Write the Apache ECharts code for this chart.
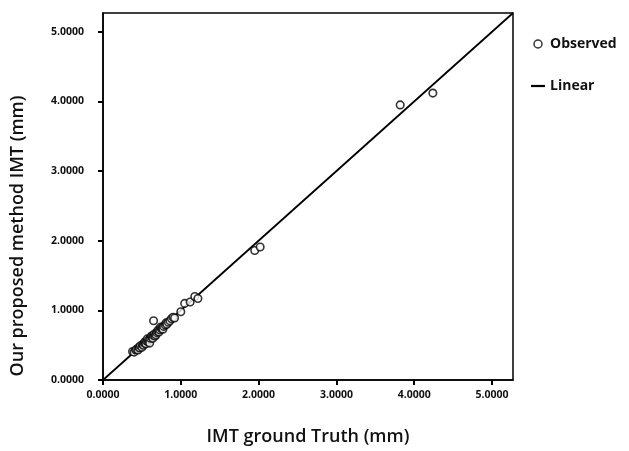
<!DOCTYPE html>
<html>
<head>
<meta charset="utf-8">
<script src="https://cdn.jsdelivr.net/npm/echarts@6/dist/echarts.min.js"></script>
<style>
  html, body { margin: 0; padding: 0; background: #fff; }
  #chart { width: 629px; height: 451px; }
</style>
</head>
<body>
<div id="chart"></div>
<script>
// IMT ground truth (x) vs proposed method IMT (y), in mm
var observed = [
  [0.38, 0.41], [0.40, 0.40], [0.42, 0.43], [0.43, 0.44], [0.45, 0.43],
  [0.46, 0.47], [0.47, 0.46], [0.48, 0.49], [0.50, 0.47], [0.51, 0.51],
  [0.52, 0.50], [0.53, 0.53], [0.54, 0.55], [0.55, 0.52], [0.56, 0.56],
  [0.57, 0.59], [0.58, 0.55], [0.59, 0.58], [0.60, 0.53], [0.61, 0.60],
  [0.62, 0.63], [0.63, 0.62], [0.64, 0.60], [0.65, 0.64], [0.66, 0.66],
  [0.67, 0.63], [0.68, 0.65], [0.69, 0.68], [0.70, 0.70], [0.71, 0.72],
  [0.72, 0.69], [0.73, 0.72], [0.74, 0.76], [0.75, 0.74], [0.76, 0.75],
  [0.77, 0.73], [0.78, 0.77], [0.80, 0.79], [0.81, 0.82], [0.82, 0.80],
  [0.84, 0.83], [0.86, 0.85], [0.88, 0.88], [0.90, 0.90], [0.92, 0.89],
  [0.65, 0.85], [1.00, 0.98], [1.05, 1.10], [1.12, 1.12], [1.18, 1.20],
  [1.22, 1.17], [1.95, 1.86], [2.02, 1.91], [3.82, 3.95], [4.24, 4.12]
];
var linearFit = [[0, 0], [5.27, 5.27]];
var tickValues = [0, 1, 2, 3, 4, 5];
var axisMax = 5.27;

var labelFont = { fontFamily: 'Open Sans', fontWeight: 'bold', fontSize: 10.5, color: '#111' };

var chart = echarts.init(document.getElementById('chart'));
var option = {
  animation: false,
  backgroundColor: '#fff',
  grid: {
    left: 103, right: 116, top: 13, bottom: 66,
    show: true, borderColor: '#000', borderWidth: 1.5
  },
  legend: {
    orient: 'vertical',
    left: 526, top: 32,
    itemGap: 28,
    itemWidth: 14, itemHeight: 8,
    textStyle: { fontFamily: 'Open Sans', fontWeight: 'bold', fontSize: 14, color: '#111' },
    data: [
      { name: 'Observed', icon: 'circle', itemStyle: { color: '#fff', borderColor: '#000', borderWidth: 1.5 } },
      { name: 'Linear', icon: 'path://M0,0H14V2.2H0Z', itemStyle: { color: '#000' } }
    ]
  },
  xAxis: {
    type: 'value', min: 0, max: axisMax,
    splitLine: { show: false },
    axisLine: { lineStyle: { color: '#000', width: 1.5 } },
    axisTick: { customValues: tickValues, length: 5, lineStyle: { color: '#000', width: 2 } },
    axisLabel: Object.assign({ customValues: tickValues, margin: 10, formatter: function (v) { return v.toFixed(4); } }, labelFont),
    name: 'IMT ground Truth (mm)',
    nameLocation: 'middle', nameGap: 48,
    nameTextStyle: { fontFamily: 'Open Sans', fontWeight: 600, fontSize: 18, color: '#111' }
  },
  yAxis: {
    type: 'value', min: 0, max: axisMax,
    splitLine: { show: false },
    axisLine: { lineStyle: { color: '#000', width: 1.5 } },
    axisTick: { customValues: tickValues, length: 5, lineStyle: { color: '#000', width: 2 } },
    axisLabel: Object.assign({ customValues: tickValues, margin: 19, formatter: function (v) { return v.toFixed(4); } }, labelFont)
  },
  graphic: [{
    type: 'text',
    x: 18, y: 236,
    rotation: Math.PI / 2,
    style: {
      text: 'Our proposed method IMT (mm)',
      fontFamily: 'Open Sans', fontWeight: 600, fontSize: 18, fill: '#111',
      align: 'center', verticalAlign: 'middle'
    }
  }],
  series: [
    {
      name: 'Linear',
      type: 'line',
      data: linearFit,
      symbol: 'none',
      lineStyle: { color: '#000', width: 1.8 },
      itemStyle: { color: '#000' },
      z: 2
    },
    {
      name: 'Observed',
      type: 'scatter',
      data: observed,
      symbol: 'circle',
      symbolSize: 7.5,
      itemStyle: { color: '#fff', borderColor: '#000', borderWidth: 1.6 },
      z: 3
    }
  ]
};
chart.setOption(option);
</script>
</body>
</html>
